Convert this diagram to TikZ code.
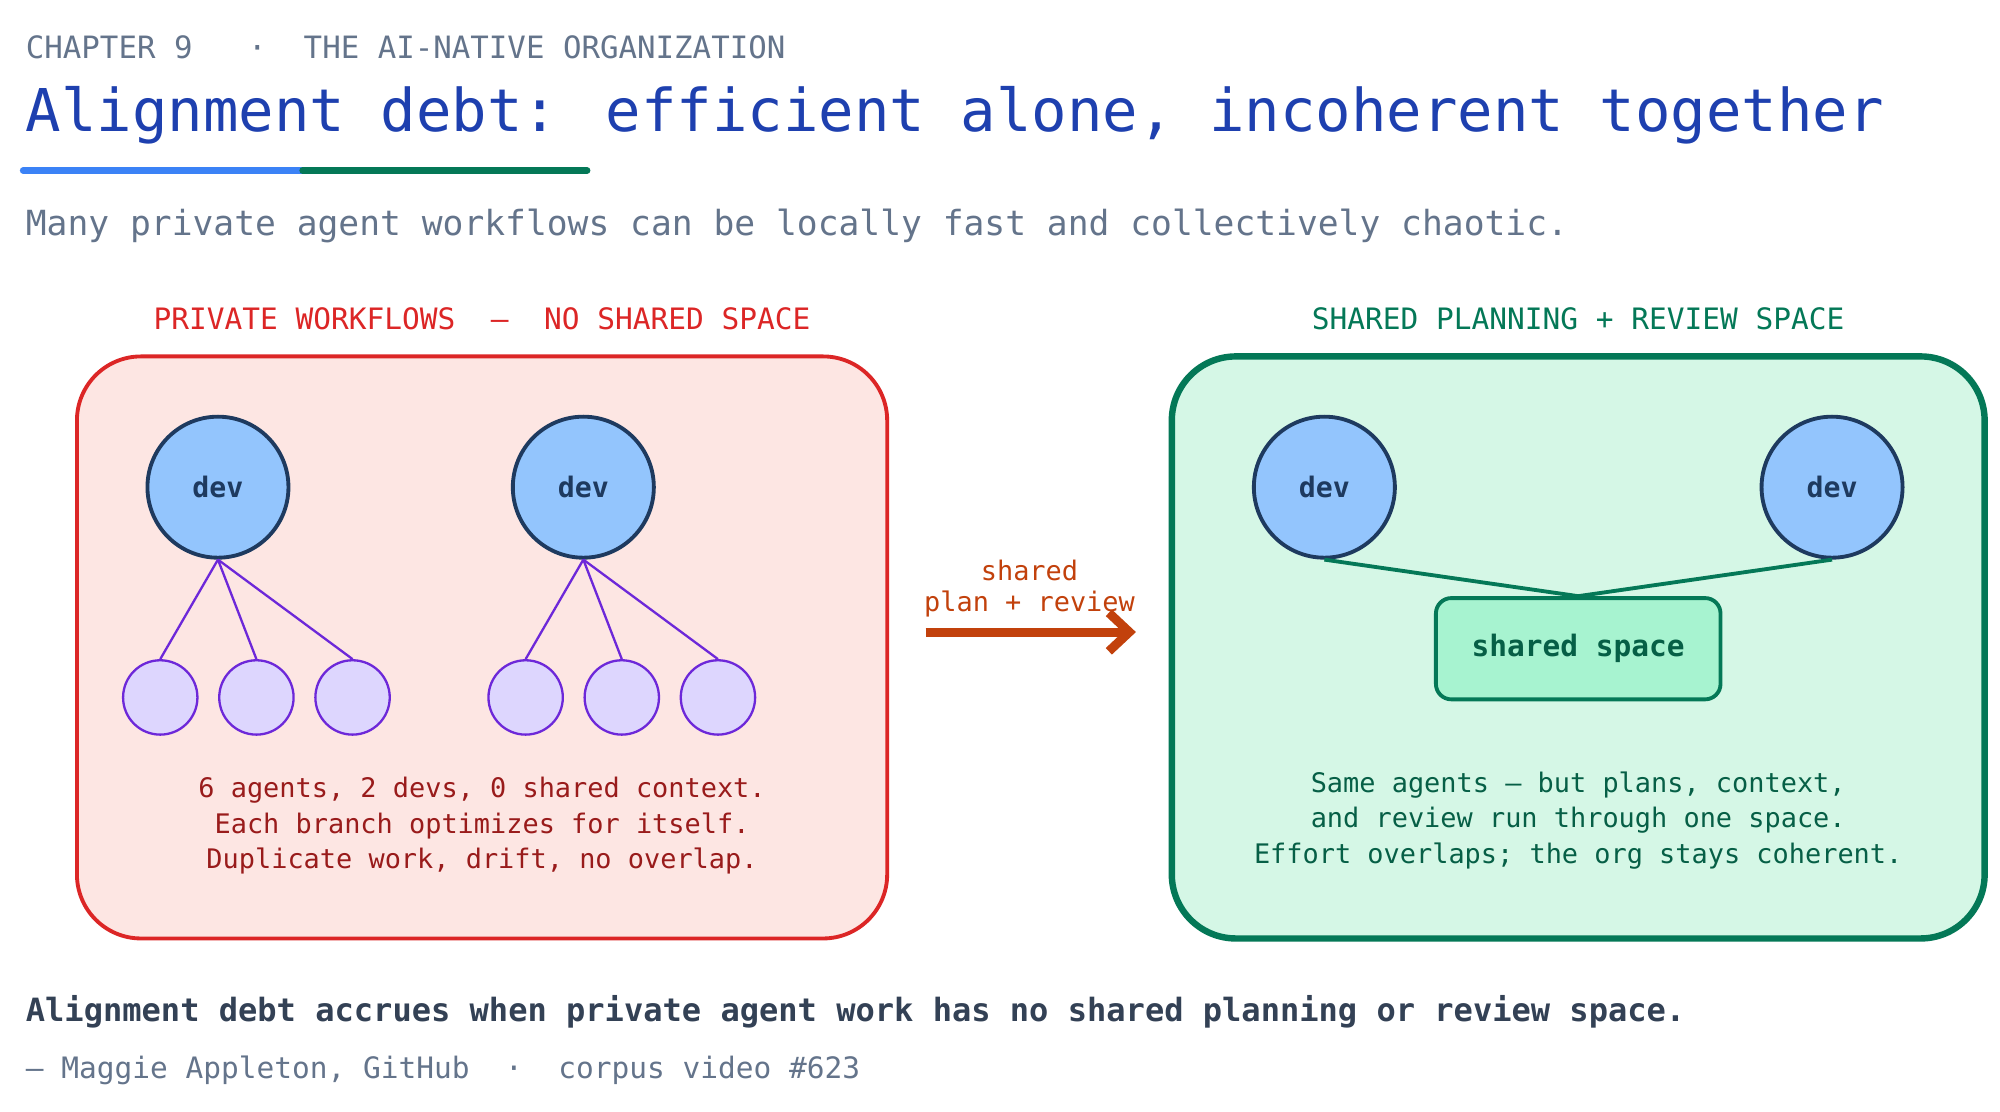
\documentclass[tikz,border=0pt]{standalone}
\usepackage{fontspec}
\setmonofont{DejaVu Sans Mono}
\setmainfont{DejaVu Sans Mono}
\usetikzlibrary{arrows.meta}
\definecolor{gray1}{HTML}{64748B}
\definecolor{titleblue}{HTML}{1E40AF}
\definecolor{ublue}{HTML}{3B82F6}
\definecolor{ugreen}{HTML}{047857}
\definecolor{redc}{HTML}{DC2626}
\definecolor{redfill}{HTML}{FDE6E3}
\definecolor{darkred}{HTML}{991B1B}
\definecolor{greenfill}{HTML}{D5F7E6}
\definecolor{darkgreen}{HTML}{065F46}
\definecolor{devfill}{HTML}{93C5FD}
\definecolor{devline}{HTML}{1E3A5F}
\definecolor{agfill}{HTML}{DDD6FE}
\definecolor{agline}{HTML}{6D28D9}
\definecolor{arr}{HTML}{C2410C}
\definecolor{ssfill}{HTML}{A7F3D0}
\definecolor{bottom}{HTML}{334155}
\newcommand{\fs}[1]{\fontsize{#1pt}{#1pt}\selectfont}
\begin{document}
\begin{tikzpicture}[x=1pt,y=-1pt,
  dev/.style={circle,draw=devline,line width=3pt,fill=devfill,minimum size=110pt,inner sep=0pt,font=\fs{22}\bfseries,text=devline},
  ag/.style={circle,draw=agline,line width=1.8pt,fill=agfill,minimum size=58pt,inner sep=0pt},
  link/.style={agline,line width=1.8pt},
  glink/.style={ugreen,line width=3pt},
  txt/.style={anchor=west,inner sep=0pt}]
\useasboundingbox (0,0) rectangle (1560,867);
\fill[white] (0,0) rectangle (1560,867);
\node[txt,text=gray1,font=\fs{24}] (hdr) at (20,37) {CHAPTER 9 \ \ ·\ \ THE AI-NATIVE ORGANIZATION};
\node[txt,text=titleblue,font=\fs{46}] (title) at (20,90) {Alignment debt: efficient alone, incoherent together};
\draw[ublue,line width=5pt,line cap=round] (18,133) -- (236,133);
\draw[ugreen,line width=5pt,line cap=round] (236,133) -- (458,133);
\node[txt,text=gray1,font=\fs{27}] (sub) at (20,176) {Many private agent workflows can be locally fast and collectively chaotic.};
% left panel
\node[text=redc,font=\fs{23}] (lt) at (376,249) {PRIVATE WORKFLOWS \ —\ \ NO SHARED SPACE};
\draw[redc,line width=3pt,fill=redfill,rounded corners=50pt] (60,278) rectangle (692,732);
\node[dev] (d1) at (170,380) {dev};
\node[dev] (d2) at (455,380) {dev};
\foreach \i/\x in {1/125,2/200,3/275}{\node[ag] (a\i) at (\x,544) {}; \draw[link] (d1.south) -- (a\i.north);}
\foreach \i/\x in {4/410,5/485,6/560}{\node[ag] (a\i) at (\x,544) {}; \draw[link] (d2.south) -- (a\i.north);}
\node[text=darkred,font=\fs{21},align=center] (lb) at (376,644) {6 agents, 2 devs, 0 shared context.\\[7pt]Each branch optimizes for itself.\\[7pt]Duplicate work, drift, no overlap.};
% arrow
\coordinate (as) at (722,493); \coordinate (ae) at (886,493);
\draw[arr,line width=7pt,-{Straight Barb[length=16pt,width=30pt,line width=7pt]}] (as) -- (ae);
\node[text=arr,font=\fs{21},align=center] (al) at (803,459) {shared\\[3pt]plan + review};
% right panel
\node[text=ugreen,font=\fs{23}] (rt) at (1231,249) {SHARED PLANNING + REVIEW SPACE};
\draw[ugreen,line width=5pt,fill=greenfill,rounded corners=50pt] (914,278) rectangle (1548,732);
\node[dev] (d3) at (1033,380) {dev};
\node[dev] (d4) at (1429,380) {dev};
\node[draw=ugreen,line width=3pt,fill=ssfill,rounded corners=12pt,minimum width=222pt,minimum height=79pt,font=\fs{23}\bfseries,text=darkgreen] (ss) at (1231,506) {shared space};
\draw[glink] (d3.south) -- (ss.north);
\draw[glink] (d4.south) -- (ss.north);
\node[text=darkgreen,font=\fs{21},align=center] (rb) at (1231,640) {Same agents — but plans, context,\\[7pt]and review run through one space.\\[7pt]Effort overlaps; the org stays coherent.};
% bottom
\node[txt,text=bottom,font=\fs{25}\bfseries] (bt) at (20,789) {Alignment debt accrues when private agent work has no shared planning or review space.};
\node[txt,text=gray1,font=\fs{23}] (att) at (20,835) {— Maggie Appleton, GitHub \ ·\ \ corpus video \#623};
\end{tikzpicture}
\end{document}
